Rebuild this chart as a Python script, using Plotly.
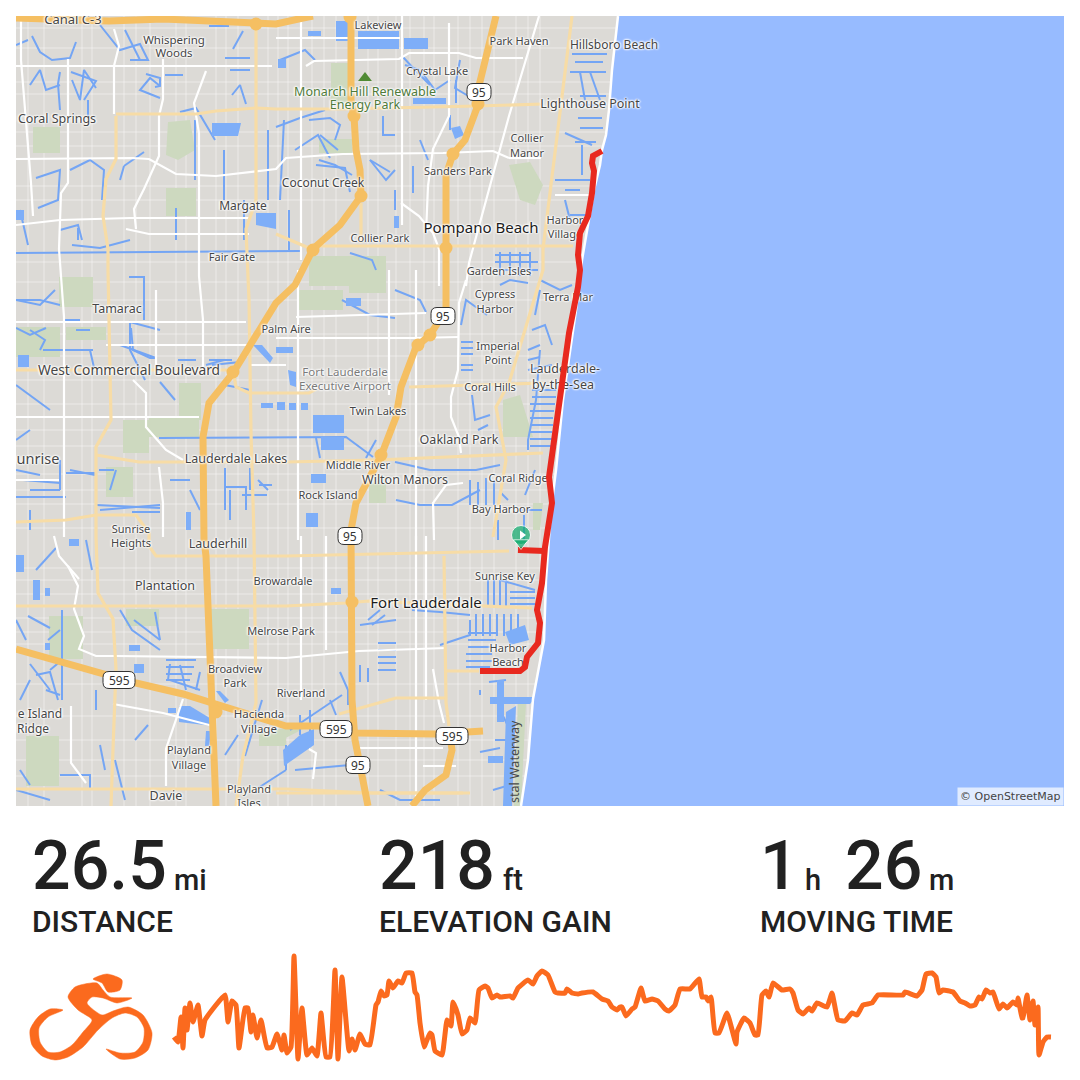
import plotly.graph_objects as go

# ----- route -----
ROUTE_MAIN = [(602,151),(593,156),(592,163),(594,171),(592,193),(588,216),(580,233),(578,255),(580,270),(578,287),
              (569,333),(564,370),(558,417),(553,450),(549,477),(552,503),(545,547),(542,583),(537,610),(540,623),
              (538,643),(527,657),(525,667),(520,671),(480,671)]
ROUTE_SPUR = [(518,550),(545,551)]
PIN = (521,535)

# ----- elevation line -----
ELEV_X = [174,178,181,183,185,187,190,193,198,202,205,225,228,232,236,239,245,248,251,253,257,261,267,272,277,282,284,287,291,
          294,298,302,307,312,317,321,326,330,335,338,342,349,352,355,360,365,370,376,378,381,384,387,389,393,398,402,406,412,
          415,417,420,424,430,432,435,442,447,451,453,458,462,467,470,475,479,485,488,492,497,500,510,513,518,528,533,537,542,
          548,555,558,565,567,572,578,582,593,602,608,612,617,620,622,626,632,635,641,645,652,658,665,669,675,680,690,699,702,
          706,708,711,715,719,727,736,737,744,750,755,758,762,766,769,773,782,790,793,798,803,809,812,817,827,832,838,845,852,
          857,863,872,878,903,905,917,922,926,932,936,939,943,953,960,965,970,975,979,982,986,990,993,999,1003,1007,1013,1017,
          1018,1022,1023,1027,1030,1033,1035,1038,1039,1043,1047,1051]
ELEV_Y = [1037,1042,1017,1048,1008,1030,1003,1022,1005,1036,1020,995,1022,1001,1005,1048,1008,1008,1032,1015,1038,1020,1048,1047,1034,1050,1035,1053,1047,
          956,1059,1008,1055,1048,1056,1013,1057,1057,970,1059,977,1051,1039,1050,1034,1044,1045,1005,1002,991,996,995,981,988,981,983,973,973,
          992,995,1023,1047,1033,1035,1051,1055,1020,1026,1002,1015,1034,1030,1018,1023,990,986,988,998,995,997,996,998,988,980,984,976,971,
          975,992,993,993,989,993,994,993,992,999,1001,1007,1010,1007,1007,1016,1009,1007,988,1001,999,1001,1009,1011,1005,989,989,979,997,
          997,1001,997,1033,1033,1013,1044,1032,1018,1023,1035,1035,995,991,997,983,990,989,993,1010,1014,1008,1011,1003,1007,993,1020,1021,1013,
          1015,1005,1003,995,995,992,996,990,974,973,977,993,990,992,1001,1003,1006,1005,997,999,990,993,992,1009,1004,1008,1002,1005,
          998,1018,1018,995,1020,1001,1025,1007,1055,1042,1037,1037]

# ----- map geometry -----
SEA = [(618,16),(612,70),(609,110),(606,135),(602,150),(600,165),(594,190),(588,225),(582,260),(576,310),(570,350),(563,400),
       (556,470),(551,510),(546,580),(544,640),(533,699),(528,760),(521,806),(1064,806),(1064,16)]
MOTORWAYS = [
    [(496,16),(478,90),(478,105),(465,140),(453,154),(446,175),(446,240),(446,310),(430,335),(416,347),(401,387),(396,417),(381,456),(356,503),(351,530),(352,600),(352,700),(355,740),(368,806)],
    [(351,16),(351,100),(354,116),(356,150),(360,170),(361,196),(340,225),(313,249),(295,285),(276,303),(233,373),(209,403),(203,437),(204,540),(206,556),(210,650),(213,699),(216,806)],
    [(16,649),(69,664),(106,674),(136,683),(183,694),(213,703),(233,709),(286,726),(319,726),(356,733),(436,734),(483,731)],
    [(16,18),(36,19),(109,21),(163,19),(256,24),(276,24),(303,18),(313,16)],
    [(450,735),(452,750),(446,775),(425,790),(412,806)],
]
INTERCHANGE_X = [354,361,453,446,313,233,381,430,418,352,216,478,256,350]
INTERCHANGE_Y = [116,196,154,248,250,372,455,335,345,602,712,104,24,17]
SECONDARY = [
    [(256,30),(256,200),(246,229),(248,276),(249,300),(251,433),(254,536),(256,703),(243,756),(236,806)],
    [(116,116),(116,159),(106,179),(103,216),(108,249),(108,270),(111,420),(96,447),(96,537),(98,593),(113,619),(116,669),(113,749),(111,806)],
    [(116,114),(196,114),(216,111),(256,108),(276,109),(343,109),(476,106),(543,104)],
    [(16,370),(233,370),(236,387),(249,393),(286,393),(309,393),(316,389)],
    [(96,455),(139,462),(286,462),(376,460),(543,453)],
    [(16,522),(66,520),(96,515),(136,515),(149,533),(149,546),(156,556),(286,556),(509,551)],
    [(16,606),(286,606),(346,603),(369,601),(532,608)],
    [(16,789),(286,789),(373,793),(463,793)],
    [(339,714),(396,698),(446,698)],
    [(444,556),(446,703),(449,726)],
    [(446,671),(479,671)],
    [(572,16),(543,249),(543,270),(509,383),(496,407),(506,460),(493,537)],
    [(409,387),(543,383)],
    [(316,246),(573,246)],
    [(276,234),(309,248)],
    [(361,203),(361,243)],
    [(276,793),(373,793),(470,793)],
]
STREETS = [
    [(16,66),(272,66)],[(276,38),(400,38)],
    [(16,159),(133,158),(149,159),(176,174),(216,176),(256,171),(276,169),(286,158),(343,154),(443,153),(493,151),(509,158)],
    [(306,66),(314,61),(399,59),(409,53),(459,53),(476,58),(523,58)],
    [(16,225),(60,220),(130,218),(250,218)],[(126,229),(149,234),(249,234)],
    [(16,322),(246,322)],[(106,345),(249,345)],[(16,417),(199,417)],[(249,365),(286,365)],
    [(296,317),(426,313)],[(276,338),(413,338),(459,337)],
    [(298,270),(298,540)],[(389,270),(389,395)],[(416,270),(416,540)],
    [(466,280),(459,303),(458,370),(451,397),(451,417),(459,437),(461,453)],
    [(434,540),(433,503),(446,485),(463,483)],
    [(21,16),(21,60),(31,183),(33,216)],
    [(68,59),(68,183),(61,193),(59,249),(61,276),(64,317),(64,537)],
    [(68,566),(78,586),(74,609),(84,636),(79,649),(96,656),(116,656),(286,658),(359,651),(446,648)],
    [(114,29),(119,46),(114,66),(114,114)],
    [(163,59),(163,99),(159,116),(159,156),(144,189),(134,209),(136,229)],
    [(206,71),(194,103),(199,133),(199,249),(199,276),(203,320),(203,370)],
    [(156,290),(156,370)],[(133,380),(146,393),(146,427),(166,450),(183,460)],[(159,467),(163,503),(163,537)],
    [(301,16),(301,260)],[(402,16),(402,225)],[(401,203),(419,216),(433,233),(439,249),(439,286)],
    [(449,23),(449,116),(433,149),(428,186),(426,233)],
    [(539,16),(509,116),(469,263),(466,286)],
    [(301,536),(301,700)],[(326,536),(326,650)],[(416,536),(416,806)],[(426,536),(426,700)],[(433,669),(439,703),(444,723)],
    [(309,749),(316,753),(313,779)],[(359,748),(443,748)],[(423,766),(456,766)],
    [(113,704),(163,713),(213,726)],[(183,699),(166,749),(166,786)],[(71,706),(71,763),(86,783)],
    [(54,536),(59,556),(79,579)],[(16,480),(59,480)],[(509,158),(541,158)],[(555,195),(592,195)],
]
MINOR_X = [28,44,82,92,124,136,150,176,186,216,226,238,268,278,288,312,324,336,368,378,396,410,424,434,458,470,482,494,516,528,540]
MINOR_Y = [28,48,82,94,132,146,186,200,262,282,300,334,356,380,404,430,446,474,490,504,528,568,580,594,618,632,644,684,716,740,760,776]
CANALS = [
    [(16,253),(283,251),(300,251)],[(159,438),(286,437),(346,437),(373,457)],
    [(32,36),(40,52),(52,60),(70,58),(76,42)],[(16,45),(28,40)],[(30,85),(40,70),(46,90),(60,85)],[(60,110),(58,84),(60,72)],
    [(72,80),(80,100),(84,70),(96,88)],[(88,120),(88,100)],[(70,170),(90,160),(104,170),(102,200)],
    [(36,178),(60,170),(58,200),(38,208)],[(20,210),(28,245)],[(60,230),(78,225),(82,240)],[(78,240),(78,228)],
    [(72,245),(100,248),(130,240)],[(100,25),(120,50),(140,44),(148,60),(130,60)],[(140,60),(125,30)],
    [(160,98),(140,90),(150,78),(160,86)],[(165,75),(183,75)],[(230,70),(250,70)],[(225,58),(250,58)],
    [(232,95),(240,85),(246,104)],[(124,166),(120,180)],[(124,166),(144,152)],[(180,112),(196,108),(215,140)],[(195,120),(195,180)],
    [(176,208),(176,240)],[(224,150),(224,200)],[(244,200),(244,240)],[(268,130),(268,200)],[(280,200),(284,120)],
    [(280,60),(305,50),(315,60)],[(276,127),(300,118),(325,110)],[(295,150),(318,135),(330,158)],[(316,165),(345,168),(350,192)],
    [(370,160),(386,180),(395,170)],[(395,190),(395,210)],[(420,140),(428,160)],[(450,115),(450,130)],
    [(405,65),(420,70),(435,90),(450,80)],[(460,60),(455,88),(475,100)],[(320,135),(338,150)],[(342,300),(370,315),(395,318)],
    [(395,290),(420,300),(426,312)],[(461,325),(466,300),(487,315)],[(461,342),(473,342)],[(461,348),(473,348)],[(461,354),(473,354)],
    [(461,365),(473,365)],[(461,370),(473,370)],[(472,395),(475,420),(490,415)],[(478,430),(488,425)],[(395,462),(430,470),(476,470),(500,465)],
    [(396,500),(420,505),(452,505),(480,490)],[(470,480),(470,505)],[(478,482),(478,505)],[(486,478),(486,505)],[(494,480),(494,505)],[(500,492),(508,500)],
    [(498,520),(498,540)],[(524,515),(524,540)],[(520,510),(542,510)],[(525,495),(535,470)],
    [(540,350),(536,400),(528,440),(528,450)],[(532,390),(556,390)],[(532,397),(556,397)],[(530,404),(555,404)],[(530,411),(554,411)],
    [(530,418),(553,418)],[(530,425),(553,425)],[(530,432),(552,432)],[(530,439),(552,439)],[(530,446),(552,446)],
    [(532,330),(545,325),(552,345)],[(528,350),(540,345)],[(528,360),(540,357)],[(528,370),(552,365)],
    [(540,280),(560,290),(572,285)],[(495,255),(530,255)],[(495,262),(538,262)],[(495,270),(538,270)],[(500,252),(500,276)],[(510,252),(510,276)],
    [(520,252),(520,276)],[(530,252),(530,276)],[(540,290),(535,315)],[(500,285),(510,280),(528,283)],
    [(572,54),(607,54)],[(575,62),(603,62)],[(570,72),(606,72)],[(580,72),(585,100)],[(590,72),(600,100)],[(580,96),(606,96)],
    [(578,105),(606,105)],[(578,118),(602,118)],[(580,128),(603,128)],[(565,133),(592,145)],[(575,142),(596,142)],[(582,145),(582,175)],
    [(555,180),(590,180)],[(565,190),(580,190)],[(565,200),(570,220)],[(570,215),(590,215)],
    [(488,580),(488,606)],[(494,580),(494,606)],[(500,580),(500,606)],[(506,580),(506,606)],[(510,592),(535,592)],[(510,598),(535,598)],
    [(510,604),(535,604)],[(500,580),(535,590)],[(476,614),(476,636)],[(483,614),(483,636)],[(490,614),(490,636)],[(497,614),(497,636)],
    [(504,614),(504,636)],[(511,614),(511,636)],[(518,614),(518,636)],
    [(468,633),(496,633)],[(468,640),(496,640)],[(468,647),(496,647)],[(466,654),(492,654)],[(466,661),(492,661)],[(466,667),(490,667)],
    [(412,610),(440,612),(470,615)],[(440,645),(470,635),(470,620)],[(360,625),(396,620)],[(378,643),(396,643)],[(378,650),(396,650)],
    [(378,657),(396,657)],[(378,663),(396,663)],[(378,670),(396,670)],[(360,665),(360,682)],[(368,668),(368,682)],[(340,672),(348,690),(348,705)],
    [(290,730),(320,710),(342,695)],[(300,715),(300,735)],[(310,710),(310,735)],[(330,700),(336,715)],[(380,610),(368,620)],[(372,625),(385,615)],
    [(120,610),(132,630),(160,650)],[(134,620),(160,640)],[(155,612),(160,640)],[(170,664),(168,680)],[(170,680),(200,690)],[(180,665),(186,690)],
    [(200,672),(196,690)],[(16,620),(26,640)],[(28,616),(50,628)],[(48,640),(60,630)],[(30,664),(50,690)],[(46,690),(60,695)],
    [(20,700),(30,680)],[(50,670),(62,660)],[(62,610),(62,700)],[(100,745),(105,770)],[(96,690),(96,710)],[(245,756),(262,700)],
    [(255,790),(286,770)],[(286,770),(286,745)],[(60,775),(90,775),(90,790)],[(16,790),(50,800)],[(20,770),(30,785)],
    [(115,760),(125,800)],[(135,740),(148,725)],[(225,755),(238,735)],[(36,570),(56,548)],[(86,540),(92,570)],
    [(160,330),(130,322),(130,350),(145,380)],[(120,345),(156,358)],[(76,330),(90,330)],[(66,350),(90,350),(95,372)],
    [(30,330),(45,340),(40,350)],[(65,320),(80,320)],[(16,300),(40,305),(55,290)],[(16,385),(50,410)],[(160,382),(175,400)],[(178,360),(196,360)],
    [(212,365),(240,362)],[(225,385),(250,390)],[(206,365),(224,360)],[(60,460),(60,490)],[(16,470),(40,475)],[(30,490),(60,490)],[(70,470),(95,475)],
    [(16,440),(30,430)],[(116,470),(110,490)],[(170,480),(190,480)],[(190,490),(200,510)],[(230,490),(230,520)],[(258,480),(268,490)],[(267,495),(242,495)],
    [(225,468),(225,510)],[(250,468),(250,490)],[(132,512),(160,512)],[(100,510),(160,505)],[(30,510),(30,530)],
    [(366,458),(376,440)],[(316,438),(320,458)],[(489,682),(506,680)],[(480,690),(480,695)],[(495,740),(508,740),(510,765)],
    # second pass, denser bits on the west side
    [(71,72),(96,81),(84,100)],[(146,74),(160,78),(160,86),(155,87)],[(233,49),(243,31)],[(209,26),(229,26)],
    [(129,277),(144,277),(144,320)],[(131,328),(133,350),(150,358),(155,358)],[(16,328),(30,335),(46,328)],[(43,350),(93,350)],
    [(16,300),(40,300),(60,305)],[(209,360),(232,360)],[(99,470),(114,470)],[(23,480),(60,483)],[(66,473),(96,473),(96,497)],
    [(16,497),(66,497)],[(96,505),(160,508)],[(226,487),(246,487),(246,510)],[(259,485),(272,485)],
    [(309,120),(330,118),(340,125),(335,140)],[(319,160),(335,165),(352,175)],[(370,160),(390,172)],[(413,166),(413,193)],
    [(383,116),(383,135),(395,135)],[(402,56),(415,70),(430,85)],[(456,80),(456,103)],[(289,210),(289,250)],[(350,253),(372,260),(376,270)],
    [(166,660),(196,660)],[(166,667),(194,667)],[(166,674),(192,674)],[(166,680),(190,680)],[(36,675),(50,672),(58,700)],
    [(503,716),(510,730),(508,760)],[(480,752),(500,748)],[(493,790),(510,785)],[(380,790),(400,800),(440,800)],[(295,770),(350,765)],
]
LAKES = [
    [(336,21),(348,21),(348,41),(336,41)],[(358,31),(399,31),(399,49),(358,49)],[(404,38),(428,38),(428,49),(404,49)],
    [(308,31),(321,31),(321,36),(308,36)],[(278,59),(286,59),(286,68),(278,68)],[(394,216),(399,216),(399,228),(394,228)],
    [(451,128),(460,126),(464,135),(455,139)],[(413,98),(446,98),(446,104),(413,104)],
    [(313,415),(344,415),(344,433),(313,433)],[(321,437),(344,437),(344,450),(321,450)],[(311,474),(326,474),(326,483),(311,483)],
    [(346,298),(361,298),(361,306),(346,306)],[(276,347),(293,347),(293,353),(276,353)],[(288,370),(296,372),(296,387),(290,385)],
    [(277,402),(285,402),(285,410),(277,410)],[(289,403),(296,403),(296,410),(289,410)],[(301,403),(308,403),(308,410),(301,410)],
    [(306,513),(318,513),(318,527),(306,527)],[(18,355),(29,355),(29,367),(18,367)],[(253,345),(262,345),(273,358),(270,363)],
    [(261,403),(273,403),(273,408),(261,408)],[(278,402),(284,402),(284,410),(278,410)],[(186,512),(191,512),(191,530),(186,530)],
    [(212,123),(241,123),(238,136),(212,136)],[(179,706),(190,706),(213,720),(213,726),(179,722)],[(134,664),(144,664),(144,673),(134,673)],
    [(129,645),(140,645),(140,651),(129,651)],[(216,691),(220,691),(229,700),(225,703)],[(206,731),(211,731),(209,746),(205,746)],
    [(168,708),(176,708),(176,713),(168,713)],[(283,750),(300,735),(314,729),(314,745),(284,766)],[(331,588),(341,588),(341,594),(331,594)],
    [(490,697),(536,697),(530,704),(490,704)],[(497,680),(504,680),(504,722),(497,722)],[(506,712),(516,706),(512,806),(503,806)],
    [(488,756),(503,756),(503,763),(488,763)],[(505,632),(525,625),(529,640),(510,645)],[(256,213),(276,213),(276,229),(256,225)],
    [(16,210),(24,210),(24,220),(16,220)],[(33,580),(40,580),(40,600),(33,600)],[(45,588),(50,588),(50,596),(45,596)],
    [(69,539),(79,539),(79,546),(69,546)],[(45,643),(50,643),(50,650),(45,650)],[(16,555),(24,555),(24,572),(16,572)],
]
PARKS = [
    [(168,122),(190,120),(195,150),(178,160),(166,155)],[(33,127),(60,127),(60,153),(33,153)],[(166,188),(196,188),(196,216),(166,216)],
    [(331,63),(351,63),(351,103),(331,103)],[(319,139),(352,139),(352,153),(319,153)],[(509,165),(530,162),(543,185),(535,205),(520,200)],
    [(309,256),(386,256),(386,286),(309,286)],[(349,270),(386,270),(386,293),(349,293)],[(299,290),(343,290),(343,310),(299,310)],
    [(16,327),(60,327),(60,357),(16,357)],[(66,327),(106,327),(106,340),(66,340)],[(59,277),(93,277),(93,307),(59,307)],
    [(149,417),(199,417),(199,437),(149,437)],[(179,383),(201,383),(201,420),(179,420)],[(123,420),(149,420),(149,453),(123,453)],
    [(106,467),(133,467),(133,497),(106,497)],[(209,609),(249,609),(249,649),(209,649)],[(49,616),(83,616),(83,659),(49,659)],
    [(126,609),(159,609),(159,626),(126,626)],[(26,736),(59,736),(59,786),(26,786)],[(503,400),(520,395),(533,437),(503,437)],
    [(369,477),(386,477),(386,503),(369,503)],[(533,503),(543,503),(540,530),(533,530)],[(276,729),(303,729),(276,743)],
    [(259,729),(286,729),(286,746),(259,746)],[(518,703),(526,703),(521,806),(514,806)],
]

# ----- map labels -----
LABELS = ["Canal C-3","Lakeview","Whispering","Woods","Park Haven","Hillsboro Beach","Crystal Lake","Monarch Hill Renewable","Energy Park",
          "Lighthouse Point","Coral Springs","Collier","Manor","Sanders Park","Coconut Creek","Margate","Harbor","Village","Pompano Beach",
          "Collier Park","Fair Gate","Garden Isles","Cypress","Harbor","Terra Mar","Tamarac","Palm Aire","Imperial","Point","Lauderdale-",
          "by-the-Sea","West Commercial Boulevard","Fort Lauderdale","Executive Airport","Coral Hills","Twin Lakes","Oakland Park","unrise",
          "Lauderdale Lakes","Middle River","Wilton Manors","Coral Ridge","Bay Harbor","Rock Island","Sunrise","Heights","Lauderhill",
          "Sunrise Key","Plantation","Browardale","Fort Lauderdale","Melrose Park","Harbor","Beach","Broadview","Park","Riverland","Hacienda",
          "Village","e Island","Ridge","Playland","Village","Davie","Playland","Isles"]
LABEL_X = [73,378,174,174,519,614,437,365,365,590,57,527,527,458,323,243,565,565,481,380,232,499,495,495,568,117,286,498,498,565,563,129,345,
           345,490,378,459,38,236,358,405,518,501,328,131,131,218,505,165,283,426,281,508,508,235,235,301,259,259,40,33,189,189,166,249,249]
LABEL_Y = [21,26,41,54,42,46,72,93,106,105,120,139,154,172,184,207,221,235,229,239,258,272,295,310,298,310,330,347,361,370,386,372,373,
           387,388,412,441,460,460,466,481,479,510,496,530,544,545,577,587,582,604,632,649,663,670,684,694,715,730,715,730,751,766,797,790,804]
LABEL_SIZE = [13,11,11.5,11.5,11,12,11,12.5,12.5,12.5,12.5,11,11,11,12,12,11,11,15,11,11,11,11,11,11,12.5,11,11,11,12.5,12.5,13.8,11.5,11.5,11,11,
              12.5,14.5,12.5,11,12.5,11,11,11,11,11,12.5,11,12.5,11,15,11,11,11,11,11,11,11.5,11.5,12,12,11,11,12.5,11,11]
SHIELD_TEXT = ["95","95","95","95","595","595","595"]
SHIELD_X = [479,443,350,358,119,336,452]
SHIELD_Y = [92,316,536,765,680,729,736]

# ----- cyclist icon -----
RIDER = [(68,997),(75,987),(97,983),(103,990),(110,997),(132,998),(117,1003),(103,998),(92,997),(87,1003),(102,1015),(113,1011),(128,1007),
         (143,1015),(152,1033),(148,1050),(135,1058),(120,1059),(106,1049),(120,1053),(135,1052),(143,1042),(144,1028),(137,1017),(125,1013),
         (112,1018),(98,1030),(83,1047),(68,1057),(55,1060),(42,1056),(32,1045),(30,1030),(38,1017),(50,1009),(63,1010),(48,1017),(39,1028),
         (40,1042),(48,1052),(60,1052),(72,1045),(83,1032),(92,1020),(78,1010),(68,997)]
RIDER_HEAD = [(93,979),(107,974),(122,980),(120,990),(108,992),(102,983),(93,979)]

ORANGE = "#fb6a1e"
DARK = "#212121"
HALO = "0 0 2px #fff, 0 0 2px #fff, 0 0 3px #fff, 1px 0 2px #fff, -1px 0 2px #fff"


def flatten(lines):
    xs, ys = [], []
    for line in lines:
        xs += [p[0] for p in line] + [None]
        ys += [p[1] for p in line] + [None]
    return xs, ys


def add_lines(fig, lines, color, width):
    xs, ys = flatten(lines)
    fig.add_trace(go.Scatter(x=xs, y=ys, mode="lines", line=dict(color=color, width=width),
                             hoverinfo="skip", xaxis="x", yaxis="y"))


def add_fill(fig, polys, color):
    for poly in polys:
        fig.add_trace(go.Scatter(x=[p[0] for p in poly], y=[p[1] for p in poly], mode="lines", fill="toself",
                                 fillcolor=color, line=dict(color=color, width=0), hoverinfo="skip",
                                 xaxis="x", yaxis="y"))


fig = go.Figure()

# ground texture first, everything else on top
minor_v = [[(x, 16), (x, 806)] for x in MINOR_X]
minor_h = [[(16, y), (1064, y)] for y in MINOR_Y]
add_lines(fig, minor_v + minor_h, "rgba(255,255,255,0.45)", 1)
add_fill(fig, PARKS, "#cdd9bf")
add_lines(fig, CANALS, "#74a5f4", 2)
add_fill(fig, LAKES, "#7eaef8")
add_lines(fig, STREETS, "#ffffff", 2.2)
add_fill(fig, [SEA], "#97bbff")
add_lines(fig, [SEA[:19]], "#ffffff", 2.5)
add_lines(fig, SECONDARY, "#f7dca6", 3.2)
add_lines(fig, MOTORWAYS, "#f5bf62", 7)
fig.add_trace(go.Scatter(x=INTERCHANGE_X, y=INTERCHANGE_Y, mode="markers", hoverinfo="skip",
                         marker=dict(color="#f5bf62", size=13), xaxis="x", yaxis="y"))

label_colors = ["#454545"] * len(LABELS)
label_colors[7] = label_colors[8] = "#4f7a3a"
label_colors[32] = label_colors[33] = "#7a7a7a"
label_colors[18] = label_colors[50] = "#1c1c1c"
fig.add_trace(go.Scatter(x=LABEL_X, y=LABEL_Y, mode="text", text=LABELS, hoverinfo="skip", xaxis="x", yaxis="y",
                         textfont=dict(family="Noto Sans", size=LABEL_SIZE, color=label_colors, shadow=HALO)))

# monarch hill triangle
fig.add_trace(go.Scatter(x=[365], y=[78], mode="markers", hoverinfo="skip", xaxis="x", yaxis="y",
                         marker=dict(symbol="triangle-up", color="#4f8a33", size=12)))

# route and start pin
add_lines(fig, [ROUTE_MAIN, ROUTE_SPUR], "#e8291f", 6)
fig.add_trace(go.Scatter(x=[PIN[0], PIN[0]], y=[PIN[1], PIN[1] + 8], mode="markers", hoverinfo="skip", xaxis="x", yaxis="y",
                         marker=dict(symbol=["circle", "triangle-down"], color="#0cab6c", size=[19, 13])))
fig.add_trace(go.Scatter(x=[PIN[0] + 1], y=[PIN[1]], mode="markers", hoverinfo="skip", xaxis="x", yaxis="y",
                         marker=dict(symbol="triangle-right", color="#ffffff", size=8)))

# elevation + icon live on the page axis
fig.add_trace(go.Scatter(x=ELEV_X, y=ELEV_Y, mode="lines", line=dict(color=ORANGE, width=5, shape="spline", smoothing=0.35),
                         hoverinfo="skip", xaxis="x2", yaxis="y2"))
for poly in [RIDER, RIDER_HEAD]:
    fig.add_trace(go.Scatter(x=[p[0] for p in poly], y=[p[1] for p in poly], mode="lines", fill="toself", fillcolor=ORANGE,
                             line=dict(color=ORANGE, width=0.5, shape="spline", smoothing=0.7),
                             hoverinfo="skip", xaxis="x2", yaxis="y2"))

# road shields
shapes = [dict(type="rect", xref="x", yref="y", x0=16, x1=1064, y0=16, y1=806, fillcolor="#dcdad6", line_width=0, layer="below")]
for txt, sx, sy in zip(SHIELD_TEXT, SHIELD_X, SHIELD_Y):
    hw = 16 if len(txt) == 3 else 12
    hh = 8.5
    r = 6
    x0, x1, y0, y1 = sx - hw, sx + hw, sy - hh, sy + hh
    path = (f"M {x0+r} {y0} L {x1-r} {y0} Q {x1} {y0} {x1} {y0+r} L {x1} {y1-r} Q {x1} {y1} {x1-r} {y1} "
            f"L {x0+r} {y1} Q {x0} {y1} {x0} {y1-r} L {x0} {y0+r} Q {x0} {y0} {x0+r} {y0} Z")
    shapes.append(dict(type="path", path=path, xref="x", yref="y", fillcolor="#ffffff",
                       line=dict(color="#333333", width=1), layer="above"))

annotations = []


def page_text(txt, x, y, size, weight=500, color=DARK, family="Roboto", anchor="left", angle=0):
    annotations.append(dict(text=txt, x=x / 1080, y=1 - y / 1080, xref="paper", yref="paper", showarrow=False,
                            xanchor=anchor, yanchor="middle", textangle=angle, borderpad=0,
                            font=dict(family=family, size=size, color=color, weight=weight)))


for txt, sx, sy in zip(SHIELD_TEXT, SHIELD_X, SHIELD_Y):
    page_text(txt, sx, sy + 0.5, 12, weight=400, color="#333333", family="Noto Sans", anchor="center")
page_text("stal Waterway", 514, 762, 12.5, weight=400, color="#4a4a4a", family="Noto Sans", anchor="center", angle=-90)

# stats row
page_text("26.5", 31, 866, 68)
page_text("mi", 173, 880, 29)
page_text("DISTANCE", 31, 921, 30)
page_text("218", 378, 866, 68)
page_text("ft", 502, 880, 29)
page_text("ELEVATION GAIN", 378, 921, 30)
page_text("1", 759, 866, 68)
page_text("h", 804, 880, 29)
page_text("26", 844, 866, 68)
page_text("m", 928, 880, 29)
page_text("MOVING TIME", 759, 921, 30)

annotations.append(dict(text="© OpenStreetMap", x=1064 / 1080, y=1 - 806 / 1080, xref="paper", yref="paper", showarrow=False,
                        xanchor="right", yanchor="bottom", bgcolor="rgba(255,255,255,0.7)", borderpad=2,
                        font=dict(family="DejaVu Sans", size=11, color="#444444")))

fig.update_layout(
    width=1080, height=1080, margin=dict(l=0, r=0, t=0, b=0), paper_bgcolor="#ffffff", plot_bgcolor="rgba(0,0,0,0)",
    showlegend=False, shapes=shapes, annotations=annotations,
    xaxis=dict(domain=[16 / 1080, 1064 / 1080], range=[16, 1064], visible=False, fixedrange=True),
    yaxis=dict(domain=[1 - 806 / 1080, 1 - 16 / 1080], range=[806, 16], visible=False, fixedrange=True),
    xaxis2=dict(domain=[0, 1], range=[0, 1080], visible=False, fixedrange=True, anchor="y2"),
    yaxis2=dict(domain=[0, 1], range=[1080, 0], visible=False, fixedrange=True, anchor="x2"),
)

fig.write_html("out.html", config=dict(displayModeBar=False), post_script="document.body.style.margin='0';")
